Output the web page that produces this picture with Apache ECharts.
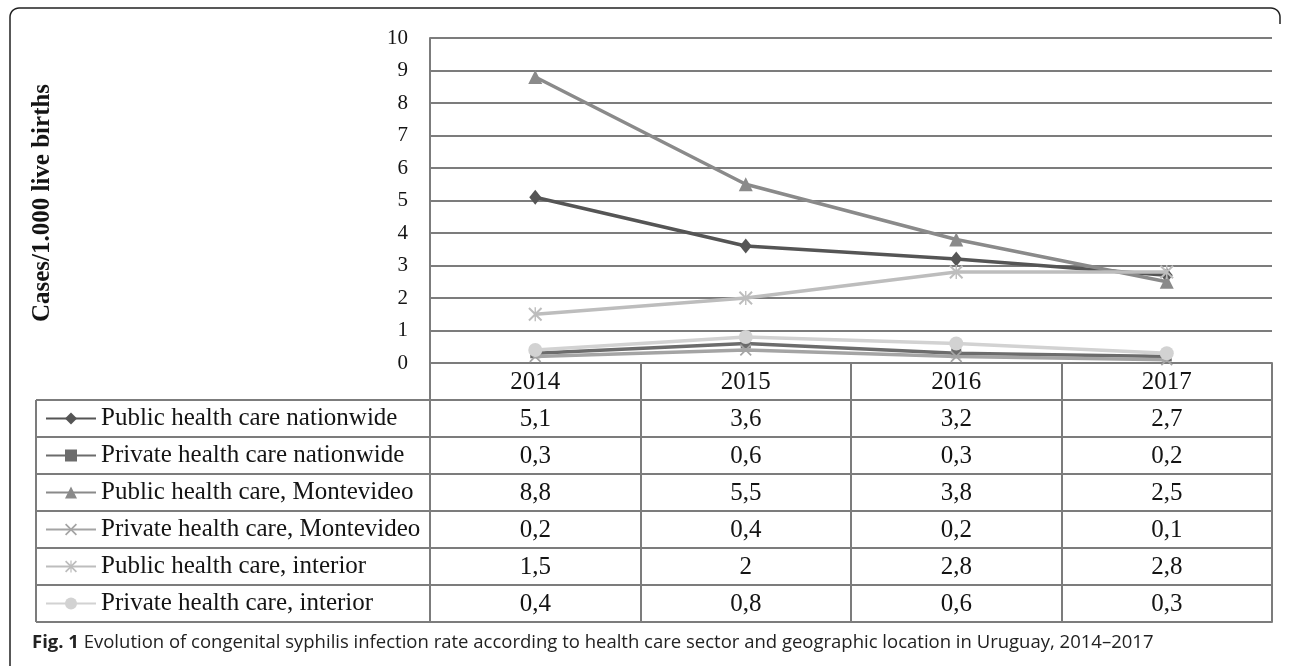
<!DOCTYPE html>
<html><head><meta charset="utf-8">
<script src="https://cdn.jsdelivr.net/npm/echarts@6/dist/echarts.min.js"></script>
<style>html,body{margin:0;padding:0;background:#fff}#c{width:1290px;height:666px}</style>
</head><body><div id="c"></div>
<script>
// ---- data ----
const years = ['2014', '2015', '2016', '2017'];
const seriesNames = [
  'Public health care nationwide',
  'Private health care nationwide',
  'Public health care, Montevideo',
  'Private health care, Montevideo',
  'Public health care, interior',
  'Private health care, interior'
];
const publicNationwide = [5.1, 3.6, 3.2, 2.7];
const privateNationwide = [0.3, 0.6, 0.3, 0.2];
const publicMontevideo = [8.8, 5.5, 3.8, 2.5];
const privateMontevideo = [0.2, 0.4, 0.2, 0.1];
const publicInterior = [1.5, 2, 2.8, 2.8];
const privateInterior = [0.4, 0.8, 0.6, 0.3];
const yMin = 0, yMax = 10, yStep = 1;
const yTitle = 'Cases/1.000 live births';
const caption = 'Evolution of congenital syphilis infection rate according to health care sector and geographic location in Uruguay, 2014\u20132017';

// ---- styling ----
const allValues = [publicNationwide, privateNationwide, publicMontevideo, privateMontevideo, publicInterior, privateInterior];
const colors = ['#555555', '#6c6c6c', '#8a8a8a', '#a4a4a4', '#bdbdbd', '#d2d2d2'];
const X_PATH = 'path://M0,2L2,0L10,8L18,0L20,2L12,10L20,18L18,20L10,12L2,20L0,18L8,10Z';
const AST_PATH = 'path://M0,2L2,0L10,8L18,0L20,2L12,10L20,18L18,20L10,12L2,20L0,18L8,10ZM9,0L11,0L11,20L9,20Z';
const symbols = ['diamond', 'rect', 'triangle', X_PATH, AST_PATH, 'circle'];
const symbolSizes = [[12, 15], 10, 14, 12, 14, 14];
const SERIF = '"Liberation Serif", "Times New Roman", serif';
const TXT = '#141414';
const LINE = '#7c7c7c';
const ROW_H = 37;
const fmt = v => String(v).replace('.', ',');

const chart = echarts.init(document.getElementById('c'), null, {renderer: 'canvas'});

// table axes: header + one per series + bottom closing line
const xAxes = [];
xAxes.push({
  type: 'category', data: years, position: 'bottom', gridIndex: 0,
  boundaryGap: true,
  axisLine: {show: true, lineStyle: {color: LINE, width: 2}},
  axisTick: {show: true, interval: 0, alignWithLabel: false, length: ROW_H, lineStyle: {color: LINE, width: 2}},
  axisLabel: {show: true, interval: 0, margin: 7, fontFamily: SERIF, fontSize: 25, color: TXT},
  splitLine: {show: false}
});
allValues.forEach((vals, k) => {
  xAxes.push({
    type: 'category', data: years, position: 'bottom', gridIndex: 0, offset: ROW_H * (k + 1),
    boundaryGap: true,
    axisLine: {show: true, lineStyle: {color: LINE, width: 2}},
    axisTick: {show: true, interval: 0, alignWithLabel: false, length: ROW_H, lineStyle: {color: LINE, width: 2}},
    axisLabel: {show: true, interval: 0, margin: 7, fontFamily: SERIF, fontSize: 25, color: TXT,
      formatter: (value, idx) => fmt(vals[idx])},
    splitLine: {show: false}
  });
});
xAxes.push({
  type: 'category', data: years, position: 'bottom', gridIndex: 0, offset: ROW_H * (allValues.length + 1),
  axisLine: {show: true, lineStyle: {color: LINE, width: 2}},
  axisTick: {show: false}, axisLabel: {show: false}, splitLine: {show: false}
});

const tableTop = 363, leftX = 36, plotLeft = 430;
const leftLines = [];
for (let k = 1; k <= allValues.length + 1; k++) {
  leftLines.push({type: 'line', silent: true,
    shape: {x1: leftX, y1: tableTop + ROW_H * k, x2: plotLeft, y2: tableTop + ROW_H * k},
    style: {stroke: LINE, lineWidth: 2}});
}
leftLines.push({type: 'line', silent: true,
  shape: {x1: leftX, y1: tableTop + ROW_H, x2: leftX, y2: tableTop + ROW_H * (allValues.length + 1)},
  style: {stroke: LINE, lineWidth: 2}});

// frame outline with rounded top corners
const framePts = [[10, 690]];
const R = 9;
for (let a = 0; a <= 8; a++) {
  const t = Math.PI + (a / 8) * Math.PI / 2;
  framePts.push([10 + R + R * Math.cos(t), 8 + R + R * Math.sin(t)]);
}
for (let a = 0; a <= 8; a++) {
  const t = -Math.PI / 2 + (a / 8) * Math.PI / 2;
  framePts.push([1280 - R + R * Math.cos(t), 8 + R + R * Math.sin(t)]);
}
framePts.push([1280, 24]);

const option = {
  animation: false,
  backgroundColor: '#fff',
  grid: {left: 430, right: 18, top: 38, bottom: 303, containLabel: false},
  xAxis: xAxes,
  yAxis: {
    type: 'value', min: yMin, max: yMax, interval: yStep,
    axisLine: {show: true, lineStyle: {color: LINE, width: 2}},
    axisTick: {show: false},
    axisLabel: {margin: 22, fontFamily: SERIF, fontSize: 21, color: TXT},
    splitLine: {show: true, lineStyle: {color: LINE, width: 2}}
  },
  legend: {
    orient: 'vertical', left: 45, top: 406, padding: 0,
    itemWidth: 50, itemHeight: 15, itemGap: 12,
    selectedMode: false,
    textStyle: {fontFamily: SERIF, fontSize: 25, lineHeight: 25, color: TXT},
    data: seriesNames
  },
  series: seriesNames.map((name, i) => ({
    name, type: 'line', xAxisIndex: 0, yAxisIndex: 0,
    data: allValues[i],
    symbol: symbols[i], symbolSize: symbolSizes[i], showSymbol: true,
    lineStyle: {color: colors[i], width: 3.5},
    itemStyle: {color: colors[i]},
    z: 3 + i
  })),
  graphic: [
    {type: 'polyline', silent: true,
      shape: {points: framePts},
      style: {stroke: '#222', lineWidth: 1.5, fill: null}},
    ...leftLines,
    {type: 'text', silent: true, x: 43, y: 203, rotation: Math.PI / 2,
      style: {text: yTitle, fontFamily: SERIF, fontSize: 25, fontWeight: 'bold', fill: TXT,
        align: 'center', verticalAlign: 'middle'}},
    {type: 'text', silent: true, x: 32, y: 643,
      style: {text: '{b|Fig. 1} ' + caption,
        rich: {b: {fontFamily: '"Open Sans", sans-serif', fontSize: 18.5, fontWeight: 'bold', fill: '#222'}},
        fontFamily: '"Open Sans", sans-serif', fontSize: 18.5, fill: '#222',
        align: 'left', verticalAlign: 'middle'}}
  ]
};
chart.setOption(option);
</script>
</body></html>
